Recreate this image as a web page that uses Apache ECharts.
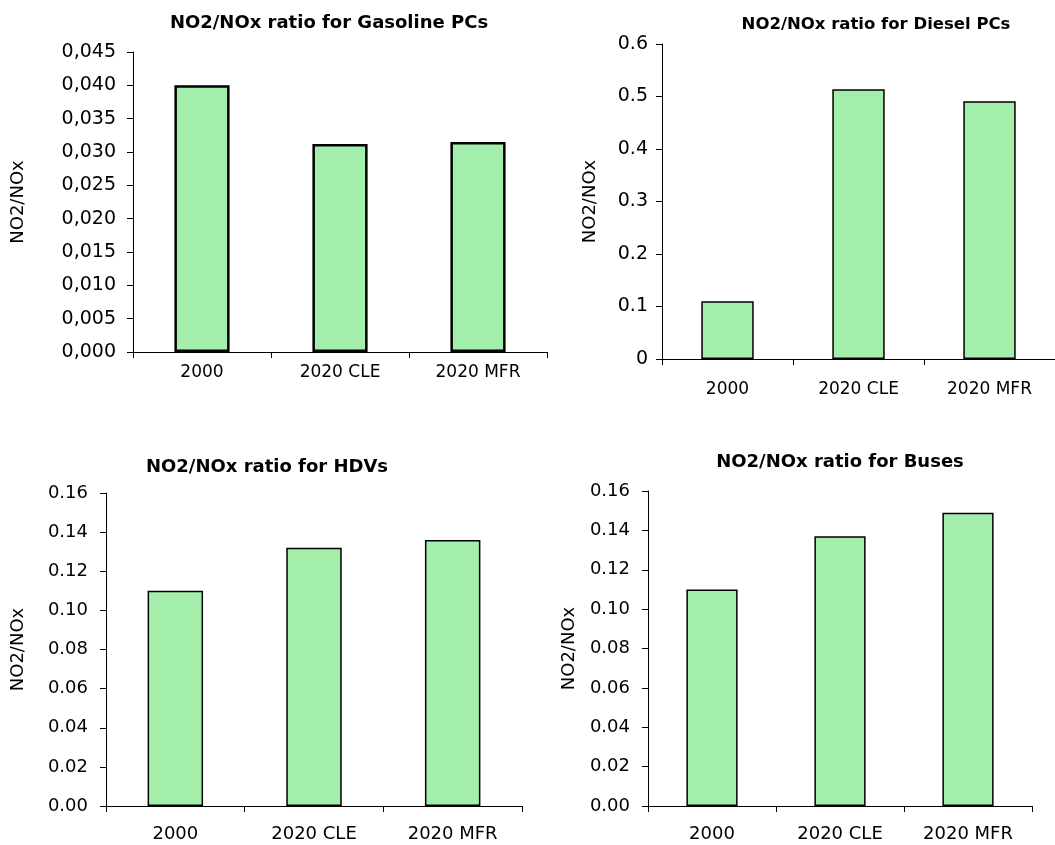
<!DOCTYPE html>
<html>
<head>
<meta charset="utf-8">
<style>
  html, body { margin: 0; padding: 0; background: #ffffff; }
  #chart { width: 1055px; height: 845px; }
</style>
<script src="https://cdn.jsdelivr.net/npm/echarts@6/dist/echarts.min.js"></script>
</head>
<body>
<div id="chart"></div>
<script>
// Categories shared by all four panels
const categories = ['2000', '2020 CLE', '2020 MFR'];

// NO2/NOx ratios per vehicle class
const gasolinePCs = [0.0400, 0.0312, 0.0315];
const dieselPCs = [0.110, 0.514, 0.491];
const hdvs = [0.110, 0.132, 0.136];
const buses = [0.110, 0.137, 0.149];

// Panel titles and axis name
const panelTitles = [
  'NO2/NOx ratio for Gasoline PCs',
  'NO2/NOx ratio for Diesel PCs',
  'NO2/NOx ratio for HDVs',
  'NO2/NOx ratio for Buses'
];
const yName = 'NO2/NOx';

const FONT = 'DejaVu Sans';
const BAR_FILL = '#a3eeab';

const chart = echarts.init(document.getElementById('chart'), null, { renderer: 'canvas' });

// Layout of each panel (pixels)
const panels = [
  { grid: { left: 133, top: 52, width: 414, height: 300 }, titleX: 324, titleY: 9, titleSize: 18,
    yMax: 0.045, yStep: 0.005, fmt: v => v.toFixed(3).replace('.', ','), ySize: 19, yMargin: 17,
    xSize: 17, xMargin: 12, nameGap: 106, border: 2.5, data: gasolinePCs },
  { grid: { left: 662, top: 44, width: 400, height: 315 }, titleX: 871, titleY: 11, titleSize: 16.5,
    yMax: 0.6, yStep: 0.1, fmt: v => (v === 0 ? '0' : v.toFixed(1)), ySize: 19, yMargin: 14,
    xSize: 17, xMargin: 22, nameGap: 63, border: 1.5, data: dieselPCs },
  { grid: { left: 106, top: 493, width: 416, height: 313 }, titleX: 262, titleY: 453, titleSize: 18,
    yMax: 0.16, yStep: 0.02, fmt: v => v.toFixed(2), ySize: 18, yMargin: 18,
    xSize: 18, xMargin: 19, nameGap: 79, border: 1.5, data: hdvs },
  { grid: { left: 648, top: 491, width: 384, height: 315 }, titleX: 835, titleY: 448, titleSize: 18,
    yMax: 0.16, yStep: 0.02, fmt: v => v.toFixed(2), ySize: 18, yMargin: 18,
    xSize: 18, xMargin: 19, nameGap: 70, border: 1.5, data: buses }
];

const axisLineStyle = { color: '#000000', width: 1 };

const option = {
  backgroundColor: '#ffffff',
  animation: false,
  title: panels.map((p, i) => ({
    text: panelTitles[i],
    left: p.titleX,
    top: p.titleY,
    textAlign: 'center',
    textStyle: { fontFamily: FONT, fontWeight: 'bold', fontSize: p.titleSize, color: '#000000' }
  })),
  grid: panels.map(p => Object.assign({ containLabel: false }, p.grid)),
  xAxis: panels.map((p, i) => ({
    type: 'category',
    gridIndex: i,
    data: categories,
    boundaryGap: true,
    axisLine: { show: true, lineStyle: axisLineStyle },
    axisTick: { show: true, length: 6, lineStyle: axisLineStyle },
    axisLabel: { fontFamily: FONT, fontSize: p.xSize, color: '#000000', margin: p.xMargin, interval: 0 },
    splitLine: { show: false }
  })),
  yAxis: panels.map((p, i) => ({
    type: 'value',
    gridIndex: i,
    min: 0,
    max: p.yMax,
    interval: p.yStep,
    name: yName,
    nameLocation: 'middle',
    nameRotate: 90,
    nameGap: p.nameGap,
    nameTextStyle: { fontFamily: FONT, fontSize: 18, color: '#000000' },
    axisLine: { show: true, lineStyle: axisLineStyle },
    axisTick: { show: true, length: 6, lineStyle: axisLineStyle },
    axisLabel: { fontFamily: FONT, fontSize: p.ySize, color: '#000000', margin: p.yMargin, formatter: p.fmt },
    splitLine: { show: false }
  })),
  series: panels.map((p, i) => ({
    type: 'bar',
    xAxisIndex: i,
    yAxisIndex: i,
    data: p.data,
    barWidth: '40%',
    itemStyle: { color: BAR_FILL, borderColor: '#000000', borderWidth: p.border },
    emphasis: { disabled: true }
  }))
};

chart.setOption(option);
</script>
</body>
</html>
